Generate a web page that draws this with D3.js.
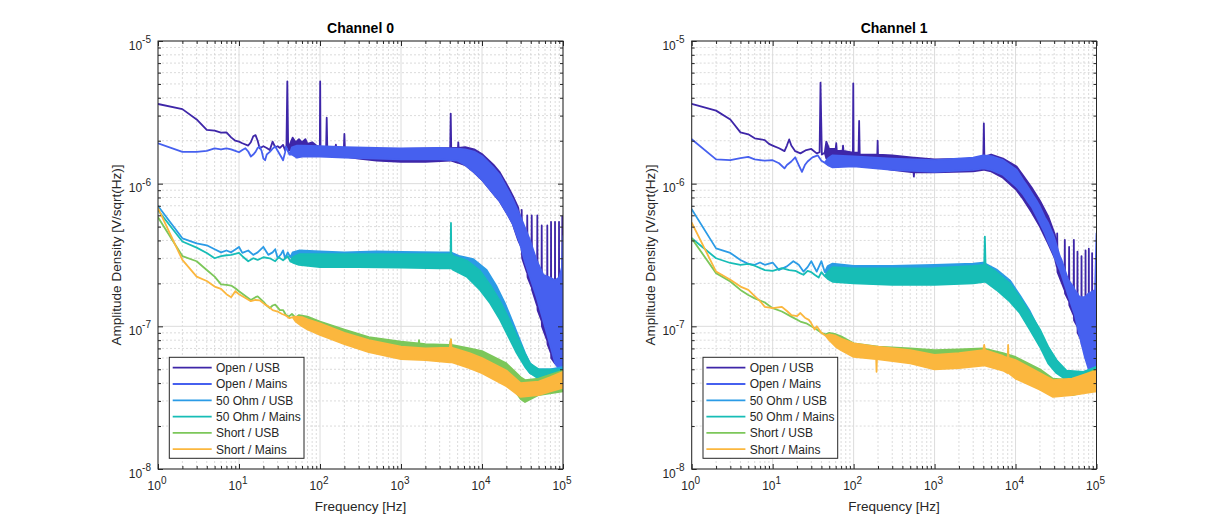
<!DOCTYPE html>
<html><head><meta charset="utf-8">
<script src="https://cdn.jsdelivr.net/npm/d3@7"></script>
<style>
body{margin:0;background:#fff}
svg{display:block}
text{font-family:"Liberation Sans",Arial,Helvetica,sans-serif;fill:#262626}
</style>
</head><body>
<svg id="chart" width="1212" height="528"></svg>
<script>
// ---------------- data ----------------
const seriesNames = ["Open / USB","Open / Mains","50 Ohm / USB","50 Ohm / Mains","Short / USB","Short / Mains"];
const seriesColors = ["#3e26a8","#4660ef","#2b9be6","#17bdb6","#7cc75a","#fbb73e"];
const channelTitles = ["Channel 0","Channel 1"];
const xTickExps = [0,1,2,3,4,5];
const yTickExps = [-8,-7,-6,-5];
const xLabel = "Frequency [Hz]";
const yLabel = "Amplitude Density [V/sqrt(Hz)]";

// points: [freq, value] or [freq, low, high] (noise band)
const ch0OpenUSB = [[1,3.62e-6],[2,3.33e-6],[3,2.82e-6],[4,2.38e-6],[5,2.35e-6],[6,2.28e-6],[7,2.29e-6],[8,2.11e-6],[9,2.0e-6],[10,1.97e-6],[11,1.92e-6],[13,1.85e-6],[14,1.95e-6],[15,2.15e-6],[16,2.19e-6],[17,2.0e-6],[18,1.77e-6],[20,1.83e-6],[22,1.78e-6],[24,1.72e-6],[26,1.97e-6],[28,1.8e-6],[30,1.83e-6],[32,1.78e-6],[35,1.87e-6],[37,1.72e-6],[38.5,1.8e-6],[39.5,5.2e-6],[40.5,1.7e-6],
 [41,1.7e-6,1.8e-6],[46,1.75e-6,2.1e-6],[50,1.65e-6,1.95e-6],[55,1.7e-6,2.05e-6],[60,1.68e-6,1.95e-6],[66,1.65e-6,2.05e-6],[70,1.65e-6,1.9e-6],[80,1.6e-6,1.95e-6],[90,1.62e-6,1.85e-6],[99.5,1.6e-6,1.8e-6],[100.5,1.6e-6,5.2e-6],[101.5,1.6e-6,1.8e-6],[119,1.6e-6,1.8e-6],[121,1.6e-6,2.9e-6],[123,1.6e-6,1.8e-6],[155,1.55e-6,1.8e-6],[157,1.55e-6,1.88e-6],[159,1.55e-6,1.8e-6],[197,1.55e-6,1.78e-6],[200,1.55e-6,2.23e-6],[203,1.55e-6,1.78e-6],[300,1.5e-6,1.78e-6],[500,1.45e-6,1.76e-6],[1000,1.42e-6,1.75e-6],[2000,1.42e-6,1.76e-6],[4050,1.45e-6,1.78e-6],[4110,1.45e-6,3.1e-6],[4170,1.45e-6,1.78e-6],[5050,1.4e-6,1.78e-6],[5100,1.4e-6,1.95e-6],[5150,1.4e-6,1.78e-6],[6200,1.35e-6,1.8e-6],[8000,1.2e-6,1.74e-6],[10200,1.05e-6,1.6e-6],[13800,8.5e-7,1.36e-6],[16600,7.5e-7,1.2e-6],[21000,6.0e-7,9.5e-7],[24000,5.2e-7,8.2e-7],[28000,4.0e-7,6.8e-7],
 [30500,3.6e-7,5.0e-7],[30900,3.6e-7,6.55e-7],[31300,3.0e-7,4.0e-7],[35800,2.4e-7,3.0e-7],[36200,2.4e-7,6.0e-7],[36600,2.2e-7,2.8e-7],[40700,1.9e-7,2.4e-7],[41100,1.9e-7,6.0e-7],[41500,1.8e-7,2.2e-7],[47800,1.4e-7,1.8e-7],[48200,1.4e-7,6.0e-7],[48600,1.3e-7,1.7e-7],[54200,1.1e-7,1.4e-7],[54600,1.1e-7,5.1e-7],[55000,1.0e-7,1.3e-7],[63600,8e-8,1.2e-7],[64000,8e-8,5.1e-7],[64400,7.5e-8,1.1e-7],[70800,6.5e-8,1.0e-7],[71200,6.5e-8,5.4e-7],[71600,6e-8,1.0e-7],[79300,5.5e-8,1.0e-7],[79700,5.5e-8,5.4e-7],[80100,5.5e-8,1.0e-7],[88900,5.2e-8,1.0e-7],[89300,5.2e-8,5.4e-7],[89700,5.2e-8,1.0e-7],[97600,5.2e-8,1.2e-7],[98000,5.2e-8,5.9e-7],[98400,5.2e-8,1.2e-7],[100000,5.2e-8,1.5e-7]];
const ch0OpenMains = [[1,1.92e-6],[2,1.67e-6],[3,1.67e-6],[4,1.7e-6],[5,1.77e-6],[6,1.74e-6],[7,1.77e-6],[8,1.74e-6],[9,1.7e-6],[10,1.66e-6],[11,1.72e-6],[12,1.77e-6],[13,1.68e-6],[14,1.55e-6],[15,1.6e-6],[16,1.67e-6],[17,1.78e-6],[18,1.82e-6],[19,1.7e-6],[20,1.5e-6],[21,1.46e-6],[22,1.6e-6],[24,1.67e-6],[26,1.76e-6],[28,1.82e-6],[30,1.7e-6],[33,1.55e-6],[35,1.46e-6],[37,1.65e-6],[38,1.82e-6],[40,1.7e-6],[42,1.6e-6],
 [45,1.6e-6,1.8e-6],[52,1.52e-6,1.85e-6],[60,1.55e-6,1.85e-6],[100,1.55e-6,1.83e-6],[200,1.52e-6,1.8e-6],[500,1.5e-6,1.78e-6],[1000,1.48e-6,1.77e-6],[3000,1.48e-6,1.78e-6],[5000,1.45e-6,1.76e-6],[6200,1.35e-6,1.74e-6],[8000,1.2e-6,1.68e-6],[10200,1.05e-6,1.55e-6],[13800,8.5e-7,1.3e-6],[16600,7.5e-7,1.15e-6],[21000,6.0e-7,9.0e-7],[24000,5.2e-7,7.8e-7],[29400,3.8e-7,6.0e-7],[34000,2.8e-7,4.9e-7],[39200,2.2e-7,4.0e-7],[47300,1.6e-7,2.9e-7],[57000,1.1e-7,2.3e-7],[69000,7.5e-8,2.2e-7],[80000,5.5e-8,2.1e-7],[90000,5.0e-8,2.2e-7],[97000,5.0e-8,2.6e-7],[100000,5.0e-8,4.3e-7]];
const ch0Ohm50USB = [[1,6.98e-7],[2,4.14e-7],[3,3.82e-7],[4,3.7e-7],[5,3.47e-7],[6,3.3e-7],[7,3.4e-7],[8,3.3e-7],[9,3.45e-7],[10,3.6e-7],[11,3.27e-7],[13,3.4e-7],[15,3.17e-7],[17,3.3e-7],[20,3.6e-7],[23,3.17e-7],[26,3.3e-7],[28,3.47e-7],[30,3.0e-7],[33,3.2e-7],[35,3.4e-7],[37,3.0e-7],[40,3.3e-7],[43,3.05e-7],
 [46,3.0e-7,3.3e-7],[55,2.9e-7,3.4e-7],[100,2.85e-7,3.35e-7],[200,2.8e-7,3.3e-7],[500,2.8e-7,3.35e-7],[1000,2.75e-7,3.33e-7],[3000,2.75e-7,3.3e-7],[4100,2.75e-7,3.3e-7],[5350,2.6e-7,3.1e-7],[7810,2.3e-7,2.96e-7],[11400,1.85e-7,2.48e-7],[15200,1.45e-7,1.9e-7],[19200,1.12e-7,1.45e-7],[23300,8.6e-8,1.11e-7],[28100,6.6e-8,8.5e-8],[34000,5.3e-8,6.5e-8],[39200,4.7e-8,5.5e-8],[47300,4.5e-8,5.0e-8],[70000,4.4e-8,5.0e-8],[100000,4.5e-8,5.2e-8]];
const ch0Ohm50Mains = [[1,6.5e-7],[2,3.93e-7],[3,3.56e-7],[4,3.27e-7],[5,3.0e-7],[6,3.1e-7],[7,3.15e-7],[8,3.17e-7],[10,3.27e-7],[11,3.1e-7],[13,2.86e-7],[15,3.0e-7],[17,2.92e-7],[20,3.05e-7],[24,3.0e-7],[28,2.86e-7],[31,3.05e-7],[35,2.9e-7],[40,3.1e-7],[43,2.85e-7],
 [46,2.8e-7,3.05e-7],[55,2.7e-7,3.2e-7],[100,2.6e-7,3.2e-7],[300,2.6e-7,3.2e-7],[1000,2.58e-7,3.2e-7],[3000,2.55e-7,3.2e-7],[4100,2.55e-7,3.2e-7],[4140,2.55e-7,5.3e-7],[4180,2.55e-7,3.2e-7],[4430,2.48e-7,3.1e-7],[6470,2.23e-7,2.9e-7],[9450,1.8e-7,2.45e-7],[12600,1.45e-7,1.95e-7],[16700,1.11e-7,1.5e-7],[21100,8.5e-8,1.15e-7],[26800,6.5e-8,8.6e-8],[34000,5.2e-8,6.4e-8],[39200,4.7e-8,5.5e-8],[50000,4.3e-8,5.0e-8],[100000,4.3e-8,5.0e-8]];
const ch0ShortUSB = [[1,5.81e-7],[2,3.11e-7],[3,2.86e-7],[4,2.48e-7],[5,2.23e-7],[6,1.97e-7],[7,1.95e-7],[8,1.93e-7],[9,1.85e-7],[10,1.76e-7],[12,1.63e-7],[14,1.53e-7],[16,1.6e-7],[17,1.62e-7],[20,1.49e-7],[22,1.4e-7],[24,1.34e-7],[26,1.4e-7],[28,1.42e-7],[32,1.3e-7],[35,1.3e-7],[38,1.2e-7],[41,1.17e-7],[45,1.22e-7],[50,1.15e-7],
 [55,1.1e-7,1.2e-7],[70,1.0e-7,1.17e-7],[100,9.2e-8,1.08e-7],[200,8.0e-8,9.5e-8],[400,7.0e-8,8.4e-8],[1000,6.4e-8,7.8e-8],[1650,6.3e-8,7.6e-8],[1670,6.3e-8,8.0e-8],[1690,6.3e-8,7.6e-8],[2000,6.3e-8,7.5e-8],[4000,6.2e-8,7.4e-8],[4130,6.2e-8,8.1e-8],[4200,6.2e-8,7.4e-8],[7000,5.8e-8,7.0e-8],[10000,5.3e-8,6.7e-8],[20000,4.3e-8,5.5e-8],[30000,3.1e-8,4.4e-8],[34000,2.95e-8,4.2e-8],[50000,3.3e-8,4.3e-8],[100000,3.5e-8,4.9e-8]];
const ch0ShortMains = [[1,6.73e-7],[2,2.92e-7],[3,2.23e-7],[4,2.08e-7],[5,1.9e-7],[6,1.83e-7],[7,1.68e-7],[8,1.6e-7],[9,1.76e-7],[10,1.68e-7],[12,1.58e-7],[14,1.5e-7],[16,1.53e-7],[18,1.52e-7],[21,1.42e-7],[23,1.38e-7],[26,1.3e-7],[30,1.27e-7],[34,1.22e-7],[37,1.2e-7],[42,1.14e-7],[46,1.16e-7],
 [50,1.08e-7,1.17e-7],[60,1.0e-7,1.16e-7],[70,9.5e-8,1.12e-7],[100,8.7e-8,1.05e-7],[200,7.5e-8,9.0e-8],[400,6.6e-8,8.0e-8],[1000,5.9e-8,7.2e-8],[2000,5.8e-8,7.0e-8],[4000,5.6e-8,7.1e-8],[4130,5.6e-8,8.1e-8],[4200,5.6e-8,7.1e-8],[7000,5.1e-8,6.5e-8],[10000,4.7e-8,6.0e-8],[20000,3.8e-8,4.9e-8],[30000,3.2e-8,4.0e-8],[50000,3.3e-8,4.1e-8],[70000,3.5e-8,4.4e-8],[100000,3.7e-8,4.8e-8]];

const ch1OpenUSB = [[1,3.62e-6],[2,3.25e-6],[3,2.82e-6],[4,2.29e-6],[5,2.22e-6],[6,2.08e-6],[8,2.02e-6],[9,1.9e-6],[10,1.85e-6],[12,1.77e-6],[14,1.69e-6],[15,1.85e-6],[16,2.04e-6],[17,1.85e-6],[19,1.69e-6],[22,1.63e-6],[26,1.72e-6],[30,1.75e-6],[35,1.63e-6],[38,1.66e-6],[39,5.1e-6],[40.5,1.6e-6],[44,1.65e-6],
 [46,1.5e-6,1.97e-6],[50,1.5e-6,1.75e-6],[60,1.45e-6,1.75e-6],[61,1.45e-6,1.92e-6],[62,1.45e-6,1.7e-6],[73,1.45e-6,1.7e-6],[74,1.45e-6,1.85e-6],[75,1.42e-6,1.7e-6],[98,1.4e-6,1.65e-6],[99,1.4e-6,5.05e-6],[100,1.4e-6,1.65e-6],[115,1.4e-6,1.65e-6],[117,1.4e-6,2.75e-6],[119,1.4e-6,1.6e-6],[196,1.3e-6,1.6e-6],[198,1.3e-6,2.0e-6],[200,1.3e-6,1.6e-6],[300,1.25e-6,1.58e-6],[550,1.2e-6,1.52e-6],[555,1.12e-6,1.52e-6],[560,1.2e-6,1.52e-6],[1000,1.2e-6,1.48e-6],[3000,1.22e-6,1.5e-6],[4000,1.25e-6,1.55e-6],[4060,1.25e-6,2.65e-6],[4120,1.25e-6,1.55e-6],[5000,1.22e-6,1.6e-6],[7000,1.1e-6,1.5e-6],[10300,9e-7,1.32e-6],[12400,7.8e-7,1.14e-6],[15800,6.3e-7,9.4e-7],[20000,5.0e-7,7.6e-7],[25300,3.8e-7,5.9e-7],[30600,3.0e-7,4.4e-7],
 [32400,2.6e-7,3.4e-7],[32700,2.6e-7,4.49e-7],[33000,2.4e-7,3.0e-7],[40300,1.8e-7,2.3e-7],[40600,1.8e-7,4.04e-7],[40900,1.7e-7,2.1e-7],[45600,1.5e-7,1.9e-7],[45900,1.5e-7,3.6e-7],[46200,1.4e-7,1.8e-7],[52200,1.2e-7,1.6e-7],[52500,1.2e-7,4.04e-7],[52800,1.1e-7,1.5e-7],[57900,1.0e-7,1.4e-7],[58200,1.0e-7,3.34e-7],[58500,9e-8,1.3e-7],[65000,8e-8,1.2e-7],[65300,8e-8,3.1e-7],[65600,7.5e-8,1.1e-7],[72900,6.5e-8,1.1e-7],[73200,6.5e-8,3.4e-7],[73500,6e-8,1.1e-7],[80100,5.5e-8,1.1e-7],[80400,5.5e-8,3.5e-7],[80700,5.5e-8,1.1e-7],[88000,5.2e-8,1.1e-7],[88300,5.2e-8,3.26e-7],[88600,5.2e-8,1.1e-7],[100000,5.2e-8,1.3e-7]];
const ch1OpenMains = [[1,2.05e-6],[2,1.48e-6],[3,1.46e-6],[4,1.51e-6],[5,1.54e-6],[6,1.48e-6],[8,1.45e-6],[10,1.46e-6],[12,1.39e-6],[14,1.28e-6],[15,1.35e-6],[17,1.43e-6],[19,1.53e-6],[21,1.35e-6],[23,1.21e-6],[25,1.35e-6],[27,1.43e-6],[31,1.53e-6],[36,1.58e-6],[40,1.45e-6],[44,1.4e-6],
 [48,1.35e-6,1.5e-6],[55,1.3e-6,1.58e-6],[100,1.32e-6,1.55e-6],[300,1.25e-6,1.5e-6],[1000,1.21e-6,1.46e-6],[3000,1.25e-6,1.52e-6],[4000,1.28e-6,1.58e-6],[5000,1.25e-6,1.56e-6],[7030,1.15e-6,1.46e-6],[10300,9.5e-7,1.25e-6],[12400,8.4e-7,1.06e-6],[13700,7.7e-7,9.8e-7],[15800,6.9e-7,8.6e-7],[18200,5.9e-7,7.6e-7],[20000,5.3e-7,6.9e-7],[23000,4.5e-7,5.8e-7],[25300,3.9e-7,5.3e-7],[29100,3.26e-7,4.4e-7],[30600,3.0e-7,4.04e-7],[35200,2.49e-7,3.1e-7],[37000,2.3e-7,2.92e-7],[42600,1.8e-7,2.3e-7],[44700,1.65e-7,2.12e-7],[51400,1.3e-7,1.9e-7],[54000,1.2e-7,1.8e-7],[62000,8.5e-8,1.6e-7],[71800,6.1e-8,1.6e-7],[80000,5.0e-8,1.7e-7],[96000,4.8e-8,1.8e-7],[100000,4.8e-8,4.49e-7]];
const ch1Ohm50USB = [[1,6.62e-7],[2,3.52e-7],[3,3.27e-7],[4,2.92e-7],[5,2.74e-7],[6,2.7e-7],[7,2.8e-7],[8,2.7e-7],[10,2.8e-7],[12,2.48e-7],[15,2.63e-7],[18,2.86e-7],[21,2.7e-7],[24,2.42e-7],[27,2.6e-7],[30,2.86e-7],[35,2.42e-7],[40,2.86e-7],[44,2.4e-7],
 [48,2.35e-7,2.65e-7],[55,2.2e-7,2.75e-7],[100,2.1e-7,2.65e-7],[300,2.05e-7,2.65e-7],[1000,2.0e-7,2.7e-7],[3000,2.05e-7,2.75e-7],[3980,2.1e-7,2.8e-7],[5820,1.9e-7,2.5e-7],[8510,1.6e-7,2.1e-7],[11300,1.3e-7,1.65e-7],[15000,1.0e-7,1.28e-7],[19000,7.7e-8,9.8e-8],[24200,6.0e-8,7.4e-8],[30600,5.0e-8,6.0e-8],[38700,4.5e-8,5.0e-8],[46600,4.3e-8,4.7e-8],[70000,4.4e-8,4.8e-8],[100000,4.6e-8,5.2e-8]];
const ch1Ohm50Mains = [[1,4.14e-7],[2,3.0e-7],[3,2.78e-7],[4,2.7e-7],[5,2.74e-7],[6,2.66e-7],[8,2.48e-7],[10,2.45e-7],[13,2.56e-7],[16,2.48e-7],[19,2.45e-7],[22,2.35e-7],[24,2.3e-7],[27,2.45e-7],[30,2.4e-7],[33,2.3e-7],[37,2.2e-7],[40,2.4e-7],[44,2.25e-7],
 [48,2.15e-7,2.4e-7],[55,2.05e-7,2.6e-7],[100,2.0e-7,2.55e-7],[300,1.95e-7,2.55e-7],[1000,1.95e-7,2.56e-7],[3000,2.0e-7,2.65e-7],[4100,2.05e-7,2.7e-7],[4180,2.05e-7,4.26e-7],[4260,2.05e-7,2.7e-7],[5820,1.8e-7,2.4e-7],[8510,1.49e-7,2.0e-7],[11300,1.24e-7,1.6e-7],[15000,9.5e-8,1.24e-7],[20000,7.2e-8,9.5e-8],[25300,5.5e-8,7.2e-8],[32000,4.7e-8,5.8e-8],[42600,4.2e-8,4.9e-8],[70000,4.2e-8,4.8e-8],[100000,4.5e-8,5.2e-8]];
const ch1ShortUSB = [[1,4.14e-7],[2,2.36e-7],[3,2.06e-7],[4,1.8e-7],[5,1.66e-7],[6,1.57e-7],[8,1.47e-7],[10,1.34e-7],[13,1.27e-7],[17,1.17e-7],[22,1.08e-7],[26,1.05e-7],[30,1.0e-7],[35,9.5e-8],[40,9.0e-8],[45,8.8e-8],
 [50,8.2e-8,9.0e-8],[60,7.4e-8,8.8e-8],[70,7.0e-8,8.5e-8],[100,6.3e-8,7.6e-8],[200,6.0e-8,7.2e-8],[500,5.8e-8,7.0e-8],[1000,5.6e-8,6.8e-8],[2000,5.6e-8,6.9e-8],[4000,5.7e-8,7.0e-8],[7000,5.3e-8,6.5e-8],[10000,5.0e-8,6.1e-8],[20000,4.0e-8,5.0e-8],[29000,3.4e-8,4.3e-8],[50000,3.3e-8,4.2e-8],[100000,3.6e-8,5.0e-8]];
const ch1ShortMains = [[1,5.33e-7],[2,2.42e-7],[3,2.12e-7],[4,1.9e-7],[5,1.8e-7],[6,1.63e-7],[7,1.5e-7],[8,1.37e-7],[10,1.34e-7],[13,1.37e-7],[15,1.28e-7],[17,1.2e-7],[20,1.18e-7],[22,1.24e-7],[25,1.15e-7],[28,1.11e-7],[30,1.05e-7],[33,9.5e-8],[35,1.0e-7],[40,9.0e-8],[45,8.6e-8],
 [50,8.0e-8,8.8e-8],[60,7.2e-8,8.6e-8],[70,6.8e-8,8.2e-8],[100,6.1e-8,7.6e-8],[190,5.9e-8,7.2e-8],[192,4.8e-8,7.2e-8],[194,5.9e-8,7.2e-8],[500,5.5e-8,6.8e-8],[1000,5.0e-8,6.3e-8],[2000,5.1e-8,6.5e-8],[4000,5.3e-8,6.8e-8],[4100,5.3e-8,7.4e-8],[4200,5.3e-8,6.8e-8],[7000,4.9e-8,6.2e-8],[8000,4.7e-8,6.0e-8],[8100,4.7e-8,7.4e-8],[8200,4.7e-8,6.0e-8],[10000,4.3e-8,5.8e-8],[20000,3.6e-8,4.7e-8],[29000,3.2e-8,4.2e-8],[50000,3.3e-8,4.3e-8],[100000,3.5e-8,4.9e-8]];

const channelSeries = [
  [ch0OpenUSB, ch0OpenMains, ch0Ohm50USB, ch0Ohm50Mains, ch0ShortUSB, ch0ShortMains],
  [ch1OpenUSB, ch1OpenMains, ch1Ohm50USB, ch1Ohm50Mains, ch1ShortUSB, ch1ShortMains]
];

// ---------------- layout ----------------
const svg = d3.select("#chart");
svg.append("rect").attr("width",1212).attr("height",528).attr("fill","#fff");
const panels = [{l:158, r:563}, {l:691.7, r:1096.5}];
const plotTop = 41, plotBottom = 469;
const axisColor = "#262626";

panels.forEach((p, ci) => {
  const x = d3.scaleLog().domain([1, 1e5]).range([p.l, p.r]);
  const y = d3.scaleLog().domain([1e-8, 1e-5]).range([plotBottom, plotTop]);
  const g = svg.append("g");

  const xMinor = [], yMinor = [];
  for (let e = 0; e < 5; e++) for (let k = 2; k <= 9; k++) xMinor.push(k * Math.pow(10, e));
  for (let e = -8; e < -5; e++) for (let k = 2; k <= 9; k++) yMinor.push(k * Math.pow(10, e));
  const xMajor = xTickExps.map(e => Math.pow(10, e));
  const yMajor = yTickExps.map(e => Math.pow(10, e));

  const grid = g.append("g");
  grid.selectAll(".gxm").data(xMinor).join("line")
    .attr("x1", d => x(d)).attr("x2", d => x(d)).attr("y1", plotTop).attr("y2", plotBottom)
    .attr("stroke", "#d2d2d2").attr("stroke-width", 0.8).attr("stroke-dasharray", "2,2");
  grid.selectAll(".gym").data(yMinor).join("line")
    .attr("y1", d => y(d)).attr("y2", d => y(d)).attr("x1", p.l).attr("x2", p.r)
    .attr("stroke", "#d2d2d2").attr("stroke-width", 0.8).attr("stroke-dasharray", "2,2");
  grid.selectAll(".gxM").data(xMajor).join("line")
    .attr("x1", d => x(d)).attr("x2", d => x(d)).attr("y1", plotTop).attr("y2", plotBottom)
    .attr("stroke", "#dcdcdc").attr("stroke-width", 1);
  grid.selectAll(".gyM").data(yMajor).join("line")
    .attr("y1", d => y(d)).attr("y2", d => y(d)).attr("x1", p.l).attr("x2", p.r)
    .attr("stroke", "#dcdcdc").attr("stroke-width", 1);

  const clipId = "clip" + ci;
  svg.append("clipPath").attr("id", clipId).append("rect")
    .attr("x", p.l).attr("y", plotTop).attr("width", p.r - p.l).attr("height", plotBottom - plotTop);
  const area = d3.area()
    .x(d => x(d[0]))
    .y0(d => y(d[1]))
    .y1(d => y(d.length > 2 ? d[2] : d[1]));
  const dg = g.append("g").attr("clip-path", `url(#${clipId})`);
  channelSeries[ci].forEach((s, si) => {
    dg.append("path").attr("d", area(s))
      .attr("fill", seriesColors[si]).attr("stroke", seriesColors[si])
      .attr("stroke-width", 1.8).attr("stroke-linejoin", "round");
  });

  const ax = g.append("g");
  const mk = (sel) => { sel.select(".domain").remove(); sel.selectAll("line").attr("stroke", axisColor); };
  ax.append("g").attr("transform", `translate(0,${plotBottom})`).call(d3.axisBottom(x).tickValues(xMajor).tickSizeInner(-5).tickSizeOuter(0).tickFormat("")).call(mk);
  ax.append("g").attr("transform", `translate(0,${plotBottom})`).call(d3.axisBottom(x).tickValues(xMinor).tickSizeInner(-3).tickSizeOuter(0).tickFormat("")).call(mk);
  ax.append("g").attr("transform", `translate(0,${plotTop})`).call(d3.axisTop(x).tickValues(xMajor).tickSizeInner(-5).tickSizeOuter(0).tickFormat("")).call(mk);
  ax.append("g").attr("transform", `translate(0,${plotTop})`).call(d3.axisTop(x).tickValues(xMinor).tickSizeInner(-3).tickSizeOuter(0).tickFormat("")).call(mk);
  ax.append("g").attr("transform", `translate(${p.l},0)`).call(d3.axisLeft(y).tickValues(yMajor).tickSizeInner(-5).tickSizeOuter(0).tickFormat("")).call(mk);
  ax.append("g").attr("transform", `translate(${p.l},0)`).call(d3.axisLeft(y).tickValues(yMinor).tickSizeInner(-3).tickSizeOuter(0).tickFormat("")).call(mk);
  ax.append("g").attr("transform", `translate(${p.r},0)`).call(d3.axisRight(y).tickValues(yMajor).tickSizeInner(-5).tickSizeOuter(0).tickFormat("")).call(mk);
  ax.append("g").attr("transform", `translate(${p.r},0)`).call(d3.axisRight(y).tickValues(yMinor).tickSizeInner(-3).tickSizeOuter(0).tickFormat("")).call(mk);
  ax.append("rect").attr("x", p.l).attr("y", plotTop).attr("width", p.r - p.l).attr("height", plotBottom - plotTop)
    .attr("fill", "none").attr("stroke", axisColor).attr("stroke-width", 1);

  xTickExps.forEach(e => {
    const t = g.append("text").attr("x", x(Math.pow(10, e)) - 1).attr("y", 490)
      .attr("text-anchor", "middle").attr("font-size", 12);
    t.append("tspan").text("10");
    t.append("tspan").attr("dy", -6).attr("font-size", 10).text(String(e));
  });
  yTickExps.forEach(e => {
    const t = g.append("text").attr("x", p.l - 7).attr("y", y(Math.pow(10, e)) + 8.5)
      .attr("text-anchor", "end").attr("font-size", 12);
    t.append("tspan").text("10");
    t.append("tspan").attr("dy", -6.5).attr("font-size", 10).text("-" + String(-e));
  });

  g.append("text").attr("x", (p.l + p.r) / 2).attr("y", 33).attr("text-anchor", "middle")
    .attr("font-size", 14).attr("font-weight", "bold").style("fill", "#000").text(channelTitles[ci]);
  g.append("text").attr("x", (p.l + p.r) / 2).attr("y", 511).attr("text-anchor", "middle")
    .attr("font-size", 13.5).text(xLabel);
  g.append("text").attr("transform", `translate(${p.l - 37},${(plotTop + plotBottom) / 2}) rotate(-90)`)
    .attr("text-anchor", "middle").attr("font-size", 13.5).text(yLabel);

  const lx = p.l + 11.3, ly = 357.3;
  const lg = g.append("g");
  lg.append("rect").attr("x", lx).attr("y", ly).attr("width", 134.7).attr("height", 101)
    .attr("fill", "#fff").attr("stroke", axisColor).attr("stroke-width", 1);
  seriesNames.forEach((n, i) => {
    const ry = ly + 10.4 + i * 16.3;
    lg.append("line").attr("x1", lx + 3.4).attr("x2", lx + 42.4).attr("y1", ry).attr("y2", ry)
      .attr("stroke", seriesColors[i]).attr("stroke-width", 1.8);
    lg.append("text").attr("x", lx + 46.7).attr("y", ry + 4.3).attr("font-size", 12).text(n);
  });
});
</script>
</body></html>
